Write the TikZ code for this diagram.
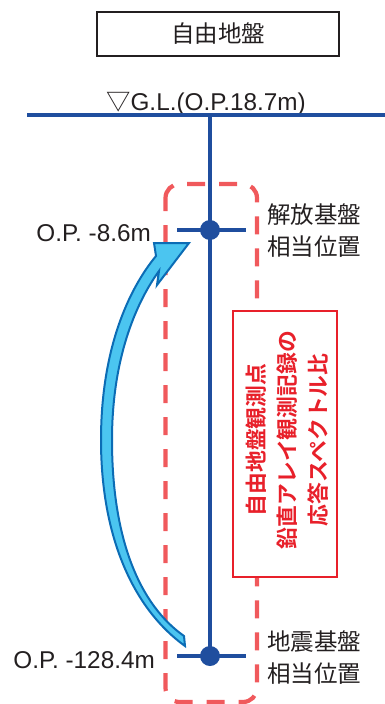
\documentclass[tikz,border=0pt]{standalone}
\usepackage{fontspec}
\setmainfont{Liberation Sans}
\newfontfamily\jp{Noto Sans CJK JP}
\newfontfamily\jpb{Noto Sans CJK JP Bold}
\definecolor{bline}{HTML}{1F4E9E}
\definecolor{dashred}{HTML}{F0595C}
\definecolor{boxred}{HTML}{E8202A}
\definecolor{arrfill}{HTML}{4BC5F0}
\definecolor{arrline}{HTML}{0B6CB5}
\definecolor{txt}{HTML}{231F20}
\begin{document}
\begin{tikzpicture}[x=1pt,y=-1pt,
  blueline/.style={draw=bline, line width=3.2},
  dotnode/.style={circle, fill=bline, inner sep=0, minimum size=20},
  jplabel/.style={font=\jp\fontsize{23.5}{32}\selectfont, text=txt, align=left, inner sep=0},
  oplabel/.style={font=\fontsize{24.3}{28}\selectfont, text=txt, inner sep=0}]
\useasboundingbox (0,0) rectangle (385,704);
% title box
\node[draw=txt, line width=1.4, minimum width=242, minimum height=44, inner sep=0,
      font=\jp\fontsize{23.5}{28}\selectfont, text=txt] (title) at (218,34) {自由地盤};
% GL label
\node[oplabel, anchor=base] (gl) at (207,110) {{\jp\kern-2pt ▽}G.L.(O.P.18.7m)};
% ground line
\coordinate (glL) at (27,115);
\coordinate (glR) at (385,115);
\coordinate (gltop) at (210,115);
\draw[blueline] (glL) -- (glR);
% dashed region
\draw[dashred, line width=4.2, dash pattern=on 18 off 14, dash phase=5, rounded corners=14]
  (165.5,184) rectangle (257,702);
% dots
\node[dotnode] (topdot) at (210,230) {};
\node[dotnode] (botdot) at (210,656) {};
\coordinate (tl) at (177,230); \coordinate (tr) at (246,230);
\coordinate (bl) at (177,656); \coordinate (br) at (246,656);
\draw[blueline] (gltop) -- (botdot.center);
\draw[blueline] (tl) -- (tr);
\draw[blueline] (bl) -- (br);
% curved arrow
\filldraw[fill=arrfill, draw=arrline, line width=2, line join=miter]
 (185,646) .. controls (135,610) and (101,540) .. (101,440)
 .. controls (101,350) and (128,290) .. (156,256)
 -- (154,243) -- (189,243) -- (157,285) -- (159,271)
 .. controls (138,300) and (112,355) .. (112,440)
 .. controls (112,540) and (140,605) .. (184,636) -- cycle;
% labels
\node[oplabel, anchor=base east] (op1) at (151,241) {O.P. -8.6m};
\node[oplabel, anchor=base east] (op2) at (155,668) {O.P. -128.4m};
\node[jplabel, anchor=west] (lab1) at (267,231) {解放基盤\\相当位置};
\node[jplabel, anchor=west] (lab2) at (267,658) {地震基盤\\相当位置};
% red box with rotated text
\node[draw=boxred, fill=white, line width=2.6, minimum width=104, minimum height=266, inner sep=0] (rbox) at (285,444) {};
\node[rotate=90, font=\jpb\fontsize{21.8}{31}\selectfont, text=boxred, align=center, inner sep=0] (rtext) at (287,440)
  {自由地盤観測点\\鉛直アレイ観測記録の\\応答スペクトル比};
\end{tikzpicture}
\end{document}
